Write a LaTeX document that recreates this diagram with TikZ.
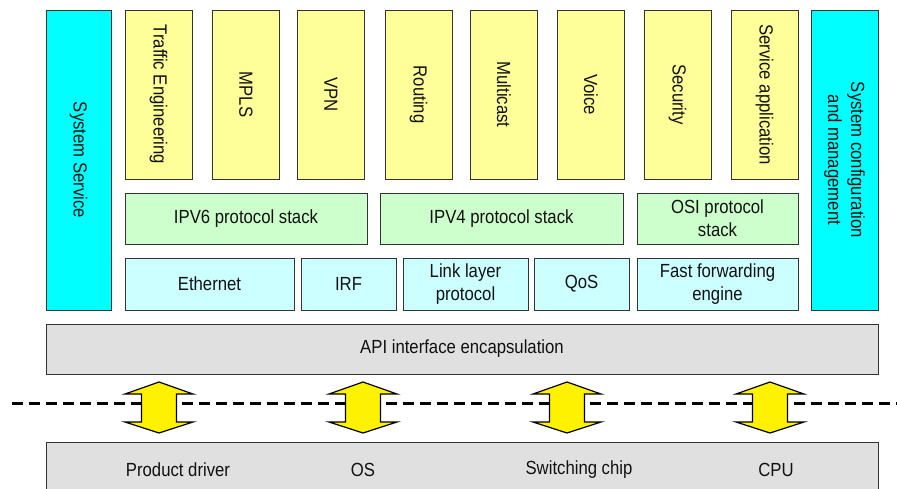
\documentclass[tikz,border=0pt]{standalone}
\usepackage{fontspec}
\setmainfont[FakeStretch=0.88]{Liberation Sans}
\definecolor{cyanbox}{HTML}{00FFFF}
\definecolor{yelbox}{HTML}{FFFF99}
\definecolor{grnbox}{HTML}{CCFFCC}
\definecolor{bluebox}{HTML}{CCFFFF}
\definecolor{graybox}{HTML}{E0E0E0}
\definecolor{edge}{HTML}{333333}
\definecolor{txt}{HTML}{111111}
\begin{document}
\begin{tikzpicture}[x=1pt,y=-1pt,
  box/.style={draw=edge,line width=1pt,inner sep=0pt,outer sep=0pt,text=txt,align=center,
    font=\fontsize{19}{23}\selectfont},
  sysbox/.style={box,fill=cyanbox,rotate=-90,minimum width=300pt},
  appbox/.style={box,fill=yelbox,rotate=-90,minimum width=169pt,minimum height=67pt},
  stackbox/.style={box,fill=grnbox,minimum height=51pt},
  linkbox/.style={box,fill=bluebox,minimum height=52pt},
  apibox/.style={box,fill=graybox},
  lbl/.style={text=txt,inner sep=0pt,font=\fontsize{19}{23}\selectfont},
  dblarrow/.style={draw=black,line width=1.2pt,fill=yellow,line join=miter}
]
\useasboundingbox (0,0) rectangle (897,488);
\fill[white] (0,0) rectangle (897,488);

% side columns
\node[sysbox,minimum height=65pt] (ss) at (78.5,160) {System Service};
\node[sysbox,minimum height=67pt] (scm) at (844.5,160) {System configuration\\and management};

% application boxes
\node[appbox] (te)  at (158.5,94.5) {Traffic Engineering};
\node[appbox] (mpls) at (246,94.5) {MPLS};
\node[appbox] (vpn) at (331,94.5) {VPN};
\node[appbox] (rt)  at (418.5,94.5) {Routing};
\node[appbox] (mc)  at (504,94.5) {Multicast};
\node[appbox] (vo)  at (591,94.5) {Voice};
\node[appbox] (sec) at (677.5,94.5) {Security};
\node[appbox] (sa)  at (764.5,94.5) {Service application};

% protocol stacks
\node[stackbox,minimum width=242pt] (v6)  at (246,218.5) {IPV6 protocol stack};
\node[stackbox,minimum width=243pt] (v4)  at (501.5,218.5) {IPV4 protocol stack};
\node[stackbox,minimum width=161pt] (osi) at (717.5,218.5) {OSI protocol\\stack};

% link layer row
\node[linkbox,minimum width=169pt] (eth) at (209.5,284) {Ethernet};
\node[linkbox,minimum width=95pt]  (irf) at (348.5,284) {IRF};
\node[linkbox,minimum width=125pt] (llp) at (465.5,284) {Link layer\\protocol};
\node[linkbox,minimum width=95pt]  (qos) at (581.5,284) {QoS};
\node[linkbox,minimum width=161pt] (ffe) at (717.5,284) {Fast forwarding\\engine};

% API layer
\node[apibox,minimum width=832pt,minimum height=50pt] (api) at (462,349) {API interface encapsulation};

% bottom layer
\node[apibox,minimum width=832pt,minimum height=64pt] (hw) at (462,474) {};
\node[lbl] (pd)  at (178,470) {Product driver};
\node[lbl] (os)  at (363,470) {OS};
\node[lbl] (sw)  at (579,470) {Switching chip};
\node[lbl] (cpu) at (776,470) {CPU};

% dashed separator
\coordinate (dl) at (12,403);
\coordinate (dr) at (897,403);
\draw[black,line width=3pt,dash pattern=on 11pt off 6pt] (dl) -- (dr);

% double arrows
\foreach \cx/\nm in {159/a1,363/a2,567/a3,770/a4}{
  \draw[dblarrow] (\cx,382) -- (\cx+34,394) -- (\cx+17.5,394) -- (\cx+17.5,422)
     -- (\cx+34,422) -- (\cx,433) -- (\cx-34,422) -- (\cx-17.5,422)
     -- (\cx-17.5,394) -- (\cx-34,394) -- cycle;
}
\end{tikzpicture}
\end{document}
